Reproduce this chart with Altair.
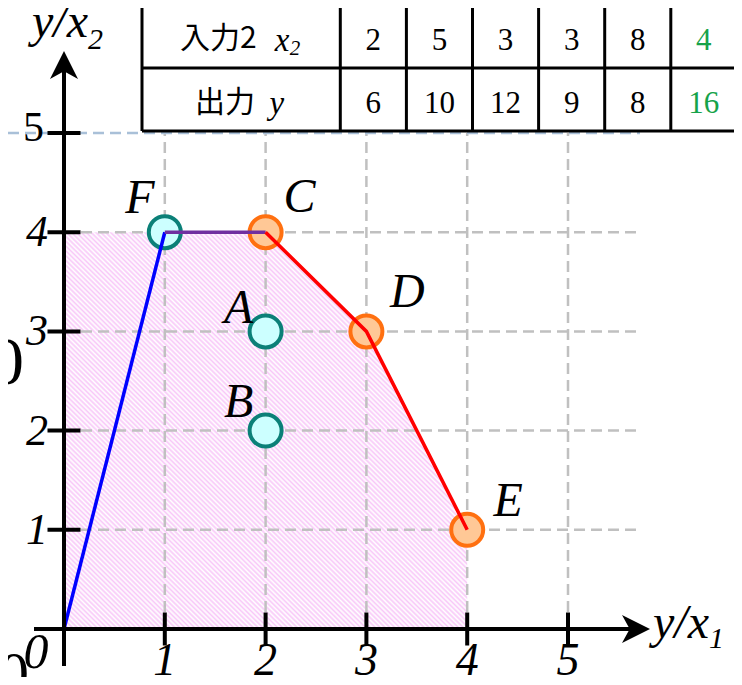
import altair as alt
import pandas as pd

# ---------------- data ----------------
dmu_names = ["A", "B", "C", "D", "E", "F"]
input2_x2 = [2, 5, 3, 3, 8, 4]
output_y = [6, 10, 12, 9, 8, 16]
ratio_y_x1 = [2, 2, 2, 3, 4, 1]
ratio_y_x2 = [o / i for o, i in zip(output_y, input2_x2)]
orange_dmus = ["C", "D", "E"]
highlight_dmu = "F"
axis_ticks = [1, 2, 3, 4, 5]
grid_h = [1, 2, 3, 4]
frontier_segments = [("#0000ff", ["O", "F"]), ("#7030a0", ["F", "C"]), ("#ff0000", ["C", "D", "E"])]

# ---------------- styles ----------------
SERIF = "Times New Roman"
CJK = "Noto Sans CJK JP"
PINK = "#f8c8f8"
GRID = "#c0c0c0"
BLUEGRID = "#a9c0d8"
GREEN = "#16a34a"

coords = {n: (a, b) for n, a, b in zip(dmu_names, ratio_y_x1, ratio_y_x2)}
coords["O"] = (0, 0)

XS = alt.Scale(domain=[0, 5], range=[56, 560], nice=False, zero=False)
YS = alt.Scale(domain=[0, 5], range=[621, 125], nice=False, zero=False)


def X(f="x"):
    return alt.X(f"{f}:Q", scale=XS, axis=None)


def Y(f="y"):
    return alt.Y(f"{f}:Q", scale=YS, axis=None)


# table layout (table units -> plot units)
def tu(u):
    return (142 + 66.1 * u - 64) / 100.8


def tr(r):
    return (629 - (131 - 63 * r)) / 99.2


# feasible region (hatched, soft stripes)
top = [(0, coords[highlight_dmu][1])] + [coords[n] for n in ["C", "D", "E"]]
area_df = pd.DataFrame({"x": [p[0] for p in top], "y": [p[1] for p in top], "y0": 0})
n = 165
stops = []
for i in range(n):
    stops += [alt.GradientStop(color=PINK, offset=i / n), alt.GradientStop(color="#ffffff", offset=(i + 0.5) / n)]
stops.append(alt.GradientStop(color=PINK, offset=1))
hatch = alt.LinearGradient(gradient="linear", stops=stops, x1=0, y1=1, x2=1, y2=0)
area = alt.Chart(area_df).mark_area(fill=hatch, opacity=1).encode(x=X(), y=Y(), y2="y0:Q")

# grid
vgrid = alt.Chart(pd.DataFrame({"x": axis_ticks, "y": 0, "y2": 5})).mark_rule(
    color=GRID, strokeWidth=2.5, strokeDash=[11, 6]).encode(x=X(), y=Y(), y2="y2:Q")
hgrid = alt.Chart(pd.DataFrame({"y": grid_h, "x": 0})).mark_rule(
    color=GRID, strokeWidth=2.5, strokeDash=[11, 6]).encode(y=Y(), x=X(), x2=alt.value(632))
topgrid = alt.Chart(pd.DataFrame({"y": [5]})).mark_rule(
    color=BLUEGRID, strokeWidth=2.5, strokeDash=[11, 6]).encode(y=Y(), x=alt.value(0), x2=alt.value(632))

# axes
xaxis = alt.Chart(pd.DataFrame({"y": [0]})).mark_rule(color="black", strokeWidth=4).encode(
    y=Y(), x=alt.value(26), x2=alt.value(628))
yaxis = alt.Chart(pd.DataFrame({"x": [0]})).mark_rule(color="black", strokeWidth=4).encode(
    x=X(), y=alt.value(658), y2=alt.value(57))
xarrow = alt.Chart(pd.DataFrame({"y": [0]})).mark_point(
    shape="M1,0 L-1,-1 L-0.45,0 L-1,1 Z", size=784, filled=True, color="black", opacity=1).encode(
    y=Y(), x=alt.value(628))
yarrow = alt.Chart(pd.DataFrame({"x": [0]})).mark_point(
    shape="M0,-1 L-1,1 L0,0.45 L1,1 Z", size=784, filled=True, color="black", opacity=1).encode(
    x=X(), y=alt.value(57))
xticks = alt.Chart(pd.DataFrame({"x": axis_ticks, "y": 0})).mark_tick(
    orient="vertical", size=33, thickness=4, color="black", opacity=1).encode(x=X(), y=Y())
yticks = alt.Chart(pd.DataFrame({"x": 0, "y": axis_ticks})).mark_tick(
    orient="horizontal", size=33, thickness=4, color="black", opacity=1).encode(x=X(), y=Y())

xlabels = alt.Chart(pd.DataFrame({"x": axis_ticks, "y": 0, "t": [str(v) for v in axis_ticks]})).mark_text(
    font=SERIF, fontStyle="italic", fontSize=46, dy=32, baseline="middle").encode(x=X(), y=Y(), text="t:N")
ylab_it = alt.Chart(pd.DataFrame({"x": 0, "y": axis_ticks[:-1], "t": [str(v) for v in axis_ticks[:-1]]})).mark_text(
    font=SERIF, fontStyle="italic", fontSize=44, dx=-16, dy=1, align="right", baseline="middle").encode(
    x=X(), y=Y(), text="t:N")
ylab_up = alt.Chart(pd.DataFrame({"x": 0, "y": axis_ticks[-1:], "t": [str(axis_ticks[-1])]})).mark_text(
    font=SERIF, fontSize=42, dx=-20, dy=-5, align="right", baseline="middle").encode(x=X(), y=Y(), text="t:N")


def pos_text(txt, x, y, dx, dy, size, italic=True, align="left", baseline="alphabetic", font=SERIF, color="black"):
    kw = dict(font=font, fontSize=size, dx=dx, dy=dy, align=align, baseline=baseline, color=color)
    if italic:
        kw["fontStyle"] = "italic"
    df = pd.DataFrame({"x": [x], "y": [y], "t": [txt]})
    return alt.Chart(df).mark_text(**kw).encode(x=X(), y=Y(), text="t:N")


axis_titles = [
    pos_text("y/x", 0, 0, 589, 9, 48),
    pos_text("1", 0, 0, 645, 19, 30),
    pos_text("y/x", 0, 0, -32, -592, 48),
    pos_text("2", 0, 0, 24, -580, 30),
    pos_text("0", 0, 0, -57, -265, 68, italic=False, align="center", baseline="middle"),
    pos_text("0", 0, 0, -50, 46, 60, italic=False, align="center", baseline="middle"),
    pos_text("0", 0, 0, -28, 24, 50, align="center", baseline="middle"),
]

# points
pts = pd.DataFrame({
    "name": dmu_names, "x": ratio_y_x1, "y": ratio_y_x2,
    "fill": ["#ffc896" if d in orange_dmus else "#ccffff" for d in dmu_names],
    "stroke": ["#ff7010" if d in orange_dmus else "#0b8078" for d in dmu_names],
})
points = alt.Chart(pts).mark_circle(size=1024, strokeWidth=4, opacity=1).encode(
    x=X(), y=Y(), fill=alt.Fill("fill:N", scale=None), stroke=alt.Stroke("stroke:N", scale=None))

# frontier lines
lines = []
for color, names in frontier_segments:
    df = pd.DataFrame({"x": [coords[k][0] for k in names], "y": [coords[k][1] for k in names],
                       "o": list(range(len(names)))})
    lines.append(alt.Chart(df).mark_line(color=color, strokeWidth=3.5).encode(x=X(), y=Y(), order="o:Q"))

label_offsets = {"A": (-27, -22), "B": (-27, -28), "C": (34, -34), "D": (41, -38), "E": (41, -28), "F": (-25, -33)}
letters = []
for nme in dmu_names:
    dx, dy = label_offsets[nme]
    letters.append(pos_text(nme, coords[nme][0], coords[nme][1], dx, dy, 48, align="center", baseline="middle"))

# ---------------- table ----------------
col_edges = [0, 3] + [4 + i for i in range(len(dmu_names))]
tv = alt.Chart(pd.DataFrame({"x": [tu(u) for u in col_edges], "y": tr(0), "y2": tr(2.3)})).mark_rule(
    color="black", strokeWidth=3).encode(x=X(), y=Y(), y2="y2:Q")
th = alt.Chart(pd.DataFrame({"y": [tr(0), tr(1)], "x": tu(0), "x2": tu(col_edges[-1])})).mark_rule(
    color="black", strokeWidth=3).encode(y=Y(), x=X(), x2="x2:Q")

cells = pd.DataFrame({
    "x": [tu(3.5 + i) for i in range(len(dmu_names))] * 2,
    "y": [tr(1.5)] * len(dmu_names) + [tr(0.5)] * len(dmu_names),
    "t": [str(v) for v in input2_x2] + [str(v) for v in output_y],
    "c": [GREEN if d == highlight_dmu else "black" for d in dmu_names] * 2,
})
cell_text = alt.Chart(cells).mark_text(font=SERIF, fontSize=31, dy=4, baseline="middle").encode(
    x=X(), y=Y(), text="t:N", color=alt.Color("c:N", scale=None))

header = [
    pos_text("入力2", tu(0.575), tr(1.5), 0, 2, 30, italic=False, baseline="middle", font=CJK),
    pos_text("x", tu(2.01), tr(1.5), 0, 4, 33, baseline="middle"),
    pos_text("2", tu(2.235), tr(1.5), 0, 12, 21, baseline="middle"),
    pos_text("出力", tu(0.80), tr(0.5), 0, 3, 30, italic=False, baseline="middle", font=CJK),
    pos_text("y", tu(1.93), tr(0.5), 0, 4, 33, baseline="middle"),
]

chart = alt.layer(area, vgrid, hgrid, topgrid, points, *lines, xaxis, yaxis, xarrow, yarrow,
                  xticks, yticks, xlabels, ylab_it, ylab_up, *axis_titles, *letters,
                  tv, th, cell_text, *header).properties(
    width=726, height=669, autosize=alt.AutoSizeParams(type="none"), padding=0
).configure_view(stroke=None)

chart.save("out.html", embed_options={"renderer": "svg", "actions": False})
